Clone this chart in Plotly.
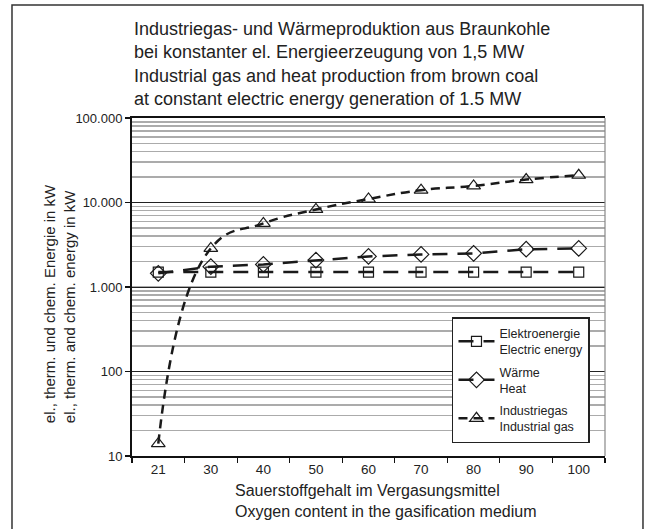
import plotly.graph_objects as go

# ---- data ----
oxygen = ["21", "30", "40", "50", "60", "70", "80", "90", "100"]
elektro = [1500, 1500, 1500, 1500, 1500, 1500, 1500, 1500, 1500]
waerme = [1450, 1740, 1850, 2080, 2300, 2430, 2500, 2800, 2860]
gas = [14, 2860, 5650, 8270, 11000, 14000, 15700, 18700, 21000]

y_tickvals = [10, 100, 1000, 10000, 100000]
y_ticktext = ["10", "100", "1.000", "10.000", "100.000"]

names = ["Elektroenergie<br>Electric energy", "Wärme<br>Heat", "Industriegas<br>Industrial gas"]

title_text = ("Industriegas- und Wärmeproduktion aus Braunkohle<br>"
              "bei konstanter el. Energieerzeugung von 1,5 MW<br>"
              "Industrial gas and heat production from brown coal<br>"
              "at constant electric energy generation of 1.5 MW")
x_title = "Sauerstoffgehalt im Vergasungsmittel<br>Oxygen content in the gasification medium"
y_title = "el., therm. und chem. Energie in kW<br>el., therm. and chem. energy in kW"

FONT = "Liberation Sans, Arial, sans-serif"
LC = "#1a1a1a"

fig = go.Figure()
fig.add_trace(go.Scatter(
    x=oxygen, y=elektro, name=names[0], mode="lines+markers", legendgroup="a",
    line=dict(color=LC, width=2.5, dash="15px,10px"),
    marker=dict(symbol="square-open", size=10, color=LC, line=dict(width=1.2, color=LC)),
))
fig.add_trace(go.Scatter(
    x=oxygen, y=waerme, name=names[1], mode="lines+markers", legendgroup="b",
    line=dict(color=LC, width=2.5, dash="15px,10px"),
    marker=dict(symbol="diamond-open", size=12, color=LC, line=dict(width=1.2, color=LC)),
))
fig.add_trace(go.Scatter(
    x=oxygen, y=gas, name=names[2], mode="lines+markers", legendgroup="c",
    line=dict(color=LC, width=2.5, dash="9px,6px", shape="spline", smoothing=1.3),
    marker=dict(symbol="triangle-up-open", size=12, color=LC, line=dict(width=1.2, color=LC)),
))

fig.update_layout(
    width=650, height=529,
    margin=dict(l=132, r=45, t=118, b=73),
    paper_bgcolor="white", plot_bgcolor="white",
    font=dict(family=FONT, size=13, color="#222"),
    showlegend=True,
    hovermode=False,
    legend=dict(
        x=0.6765, y=0.411, xanchor="left", yanchor="top",
        bgcolor="white", bordercolor="#222", borderwidth=1.5,
        font=dict(size=12.5, family=FONT, color="#222"),
        itemwidth=36, traceorder="grouped", tracegroupgap=3,
    ),
    xaxis=dict(
        type="category", categoryorder="array", categoryarray=oxygen,
        range=[-0.5, 8.5],
        showline=True, linecolor="#111", linewidth=2, mirror=True,
        ticks="outside", ticklen=5, tickcolor="#111", tickwidth=1.2,
        tickson="boundaries", showgrid=False,
        tickfont=dict(size=13.5, family=FONT, color="#222"),
    ),
    yaxis=dict(
        type="log", range=[1, 5],
        tickvals=y_tickvals, ticktext=y_ticktext,
        showline=True, linecolor="#111", linewidth=2,
        ticks="outside", ticklen=5, tickcolor="#111", tickwidth=1.2,
        showgrid=True, gridcolor="#222", gridwidth=1,
        tickfont=dict(size=13, family=FONT, color="#222"),
        minor=dict(showgrid=True, gridcolor="#ababab", gridwidth=1.5, dtick="D1", ticks=""),
        zeroline=False,
    ),
    annotations=[
        dict(text=title_text, xref="paper", yref="paper", x=0.0, y=1.298,
             xanchor="left", yanchor="top", align="left", showarrow=False,
             font=dict(size=18, family=FONT, color="#222")),
        dict(text=x_title, xref="paper", yref="paper", x=0.2135, y=-0.071,
             xanchor="left", yanchor="top", align="left", showarrow=False,
             font=dict(size=16, family=FONT, color="#222")),
        dict(text=y_title, xref="paper", yref="paper", x=-0.154, y=0.4497,
             xanchor="center", yanchor="middle", align="left", showarrow=False,
             textangle=-90, font=dict(size=15, family=FONT, color="#222")),
    ],
    shapes=[
        dict(type="rect", xref="paper", yref="paper", x0=-0.2537, x1=1.0803,
             y0=-0.2485, y1=1.3343, line=dict(color="#333", width=1.5), layer="below"),
        dict(type="line", xref="paper", yref="paper", x0=1, x1=1, y0=0, y1=1,
             line=dict(color="#888", width=1.2)),
    ],
)

fig.write_html(
    "out.html",
    config={"displayModeBar": False, "staticPlot": True},
    post_script="document.body.style.margin='0';document.body.style.overflow='hidden';",
)
